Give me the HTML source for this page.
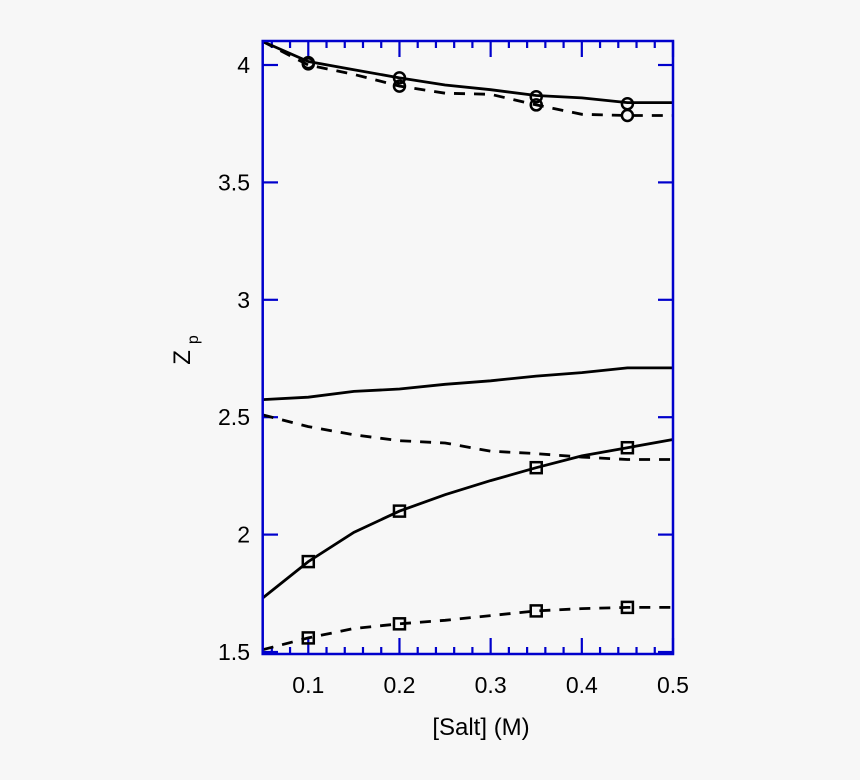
<!DOCTYPE html>
<html><head><meta charset="utf-8"><style>
html,body{margin:0;padding:0;background:#f7f7f7;}
svg{display:block;font-family:"Liberation Sans",Arial,sans-serif;}
</style></head><body>
<svg id="chart" width="860" height="780">
<rect width="860" height="780" fill="#f7f7f7"/>
<g id="ticks"></g>
<g id="series"></g>
<rect x="262.7" y="41" width="410.3" height="613" fill="none" stroke="#0000cc" stroke-width="2.5"/>
<g id="labels" font-size="23" fill="#000"></g>
<text x="481" y="735" font-size="24" text-anchor="middle">[Salt] (M)</text>
<text transform="translate(190,350) rotate(-90)" font-size="24" text-anchor="middle">Z<tspan dx="6" dy="8" font-size="16">p</tspan></text>
</svg>
<script>
const xs = [0.05,0.1,0.15,0.2,0.25,0.3,0.35,0.4,0.45,0.5];
const solidCircle = [4.10,4.015,3.98,3.945,3.915,3.895,3.87,3.86,3.84,3.84];
const dashedCircle = [4.10,4.00,3.96,3.91,3.88,3.875,3.83,3.79,3.785,3.785];
const solidMiddle = [2.575,2.585,2.61,2.62,2.64,2.655,2.675,2.69,2.71,2.71];
const dashedMiddle = [2.51,2.46,2.425,2.40,2.39,2.355,2.345,2.33,2.32,2.32];
const solidSquare = [1.73,1.885,2.01,2.10,2.17,2.23,2.285,2.335,2.37,2.405];
const dashedSquare = [1.51,1.56,1.60,1.62,1.635,1.655,1.675,1.685,1.69,1.69];
const markerX = [0.1,0.2,0.35,0.45];
const solidCircleMarks = [4.01,3.945,3.865,3.835];
const dashedCircleMarks = [4.005,3.91,3.83,3.785];
const solidSquareMarks = [1.885,2.10,2.285,2.37];
const dashedSquareMarks = [1.56,1.62,1.675,1.69];
const xTicks = [0.1,0.2,0.3,0.4,0.5];
const xTickLabels = ["0.1","0.2","0.3","0.4","0.5"];
const yTicks = [1.5,2,2.5,3,3.5,4];
const yTickLabels = ["1.5","2","2.5","3","3.5","4"];

const NS="http://www.w3.org/2000/svg";
const X0=262.7, XW=410.3, Y4=65, PER=117.4/0.5;
function sx(v){return X0+(v-0.05)/0.45*XW;}
function sy(v){return Y4-(v-4)*PER;}
function mk(tag,attrs,parent){const e=document.createElementNS(NS,tag);for(const k in attrs)e.setAttribute(k,attrs[k]);parent.appendChild(e);return e;}

const tg=document.getElementById('ticks');
for(let i=0;i<=22;i++){
  const v=0.06+i*0.02; if(v>0.5001) break;
  const major=Math.abs(v*10-Math.round(v*10))<1e-6;
  const L=major?16:7, x=sx(v);
  const t1=mk('line',{x1:x,x2:x,y1:654,y2:654-L,stroke:'#0000cc','stroke-width':2.2},tg);
  
  
  const t2=mk('line',{x1:x,x2:x,y1:41,y2:41+L,stroke:'#0000cc','stroke-width':2.2},tg);
  
  
}
yTicks.forEach(v=>{
  const y=sy(v);
  const a=mk('line',{x1:262.7,x2:278,y1:y,y2:y,stroke:'#0000cc','stroke-width':2.2},tg);
  
  
  const b=mk('line',{x1:658,x2:673,y1:y,y2:y,stroke:'#0000cc','stroke-width':2.2},tg);
  
  
});
const lg=document.getElementById('labels');
xTicks.forEach((v,i)=>{
  const t=mk('text',{x:sx(v),y:693,'text-anchor':'middle'},lg);
  t.textContent=xTickLabels[i];
  
  
});
yTicks.forEach((v,i)=>{
  const t=mk('text',{x:250,y:sy(v)+8,'text-anchor':'end'},lg);
  t.textContent=yTickLabels[i];
  
  
});

const sg=document.getElementById('series');
function line(vals,dashed,name){
  const d=vals.map((v,i)=>(i?'L':'M')+sx(xs[i]).toFixed(1)+','+sy(v).toFixed(1)).join(' ');
  const p=mk('path',{d:d,fill:'none',stroke:'#000','stroke-width':2.8},sg);
  if(dashed)p.setAttribute('stroke-dasharray','11,9');
  
  
}
function circles(vals,name){
  vals.forEach((v,i)=>{
    const c=mk('circle',{cx:sx(markerX[i]),cy:sy(v),r:5.5,fill:'none',stroke:'#000','stroke-width':2.5},sg);
    
    
  });
}
function squares(vals,name){
  vals.forEach((v,i)=>{
    const r=mk('rect',{x:sx(markerX[i])-5.5,y:sy(v)-5.5,width:11,height:11,fill:'none',stroke:'#000','stroke-width':2.5},sg);
    
    
  });
}
line(solidCircle,false,'solid-circle-line');
line(dashedCircle,true,'dashed-circle-line');
line(solidMiddle,false,'solid-middle-line');
line(dashedMiddle,true,'dashed-middle-line');
line(solidSquare,false,'solid-square-line');
line(dashedSquare,true,'dashed-square-line');
circles(solidCircleMarks,'solid-circle-marker');
circles(dashedCircleMarks,'dashed-circle-marker');
squares(solidSquareMarks,'solid-square-marker');
squares(dashedSquareMarks,'dashed-square-marker');
</script>
</body></html>
